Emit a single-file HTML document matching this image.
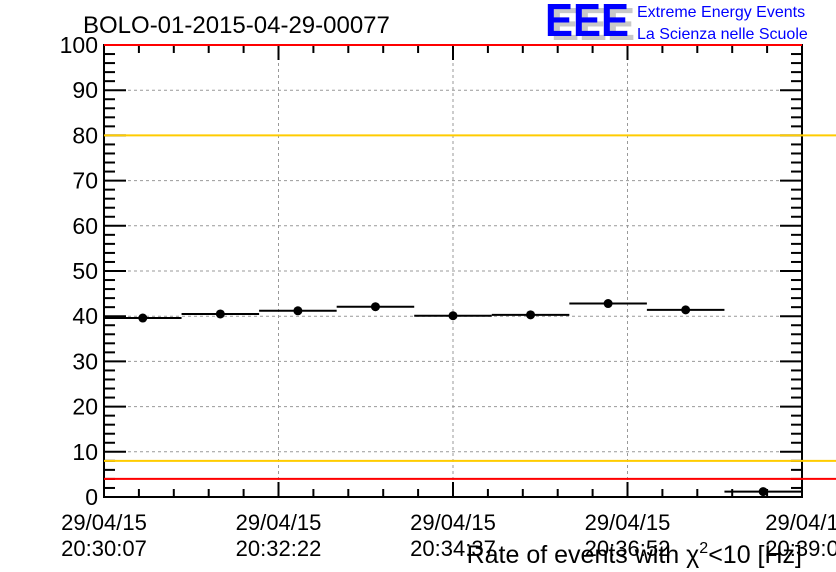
<!DOCTYPE html>
<html><head><meta charset="utf-8"><style>
body{margin:0;background:#fff;}
svg{display:block;font-family:"Liberation Sans",sans-serif;}
</style></head><body>
<svg id="c" width="836" height="572" xmlns="http://www.w3.org/2000/svg">
<rect width="836" height="572" fill="#fff"/>
<text x="83" y="33" font-size="24" fill="#000">BOLO-01-2015-04-29-00077</text>
<g>
<text x="551" y="40" font-size="46" font-weight="bold" fill="#c8c8c8" textLength="84" lengthAdjust="spacingAndGlyphs">EEE</text>
<text x="545" y="36" font-size="46" font-weight="bold" fill="#0000ff" textLength="84" lengthAdjust="spacingAndGlyphs">EEE</text>
<text x="637" y="17" font-size="16" fill="#0000ff">Extreme Energy Events</text>
<text x="637" y="39" font-size="16" fill="#0000ff">La Scienza nelle Scuole</text>
</g>
<g id="grid"></g>
<g id="axes"></g>
<g id="marks"></g>
<text x="802" y="563" font-size="25" text-anchor="end" fill="#000">Rate of events with χ<tspan dy="-10" font-size="16">2</tspan><tspan dy="10">&lt;10 [Hz]</tspan></text>
</svg>
<script>
const values=[39.6,40.5,41.2,42.1,40.1,40.3,42.8,41.4,1.2];
const yTicks=[0,10,20,30,40,50,60,70,80,90,100];
const xDates=["29/04/15","29/04/15","29/04/15","29/04/15","29/04/1"];
const xTimes=["20:30:07","20:32:22","20:34:37","20:36:52","20:39:0"];
const limitsRed=[100,4];
const limitsOrange=[80,8];
const X0=104,X1=802,Y0=497,Y1=45;
const NS="http://www.w3.org/2000/svg";
const ys=v=>Y0-(v/100)*(Y0-Y1);
const binW=(X1-X0)/values.length;
const xs=i=>X0+i*binW;
const xMaj=i=>X0+i*(X1-X0)/4;
function mk(p,t,a){const e=document.createElementNS(NS,t);for(const k in a)e.setAttribute(k,a[k]);p.appendChild(e);return e;}
const grid=document.getElementById('grid'),axes=document.getElementById('axes'),marks=document.getElementById('marks');
yTicks.forEach((v,i)=>{
 if(v>0&&v<100){const g=mk(grid,'line',{x1:X0,x2:X1,y1:ys(v),y2:ys(v),stroke:'#999','stroke-dasharray':'3,3'});
 
 }
 const t=mk(axes,'text',{x:X0-6,y:ys(v)+8,'font-size':23,'text-anchor':'end'});t.textContent=v;
 
 
});
for(let v=0;v<=100;v+=2){const maj=v%10===0;
 mk(axes,'line',{x1:X0,x2:X0+(maj?22:11),y1:ys(v),y2:ys(v),stroke:'#000','stroke-width':2});
 mk(axes,'line',{x1:X1,x2:X1-(maj?22:11),y1:ys(v),y2:ys(v),stroke:'#000','stroke-width':2});}
xDates.forEach((d,i)=>{
 const x=xMaj(i);
 if(i>0&&i<4){const g=mk(grid,'line',{x1:x,x2:x,y1:Y1,y2:Y0,stroke:'#999','stroke-dasharray':'3,3'});
 
 }
 const t=mk(axes,'text',{x:x,y:530,'font-size':22,'text-anchor':'middle'});t.textContent=d;
 
 
 const t2=mk(axes,'text',{x:x,y:556,'font-size':22,'text-anchor':'middle'});t2.textContent=xTimes[i];
 
 
});
for(let k=0;k<=20;k++){const x=X0+k*(X1-X0)/20;const L=k%5===0?15:8;
 mk(axes,'line',{x1:x,x2:x,y1:Y0,y2:Y0-L,stroke:'#000','stroke-width':2});
 mk(axes,'line',{x1:x,x2:x,y1:Y1,y2:Y1+L,stroke:'#000','stroke-width':2});}
mk(axes,'rect',{x:X0,y:Y1,width:X1-X0,height:Y0-Y1,fill:'none',stroke:'#000','stroke-width':2});
limitsRed.forEach(v=>{const l=mk(marks,'line',{x1:X0,x2:v>=100?X1:836,y1:ys(v),y2:ys(v),stroke:'#ff0000','stroke-width':2});
 
 });
limitsOrange.forEach(v=>{const l=mk(marks,'line',{x1:X0,x2:836,y1:ys(v),y2:ys(v),stroke:'#ffcc00','stroke-width':2});
 
 });
values.forEach((v,i)=>{
 const l=mk(marks,'line',{x1:xs(i),x2:xs(i+1),y1:ys(v),y2:ys(v),stroke:'#000','stroke-width':2});
 
 
 const c=mk(marks,'circle',{cx:xs(i)+binW/2,cy:ys(v),r:4.5,fill:'#000'});
 
 
});
</script>
</body></html>
